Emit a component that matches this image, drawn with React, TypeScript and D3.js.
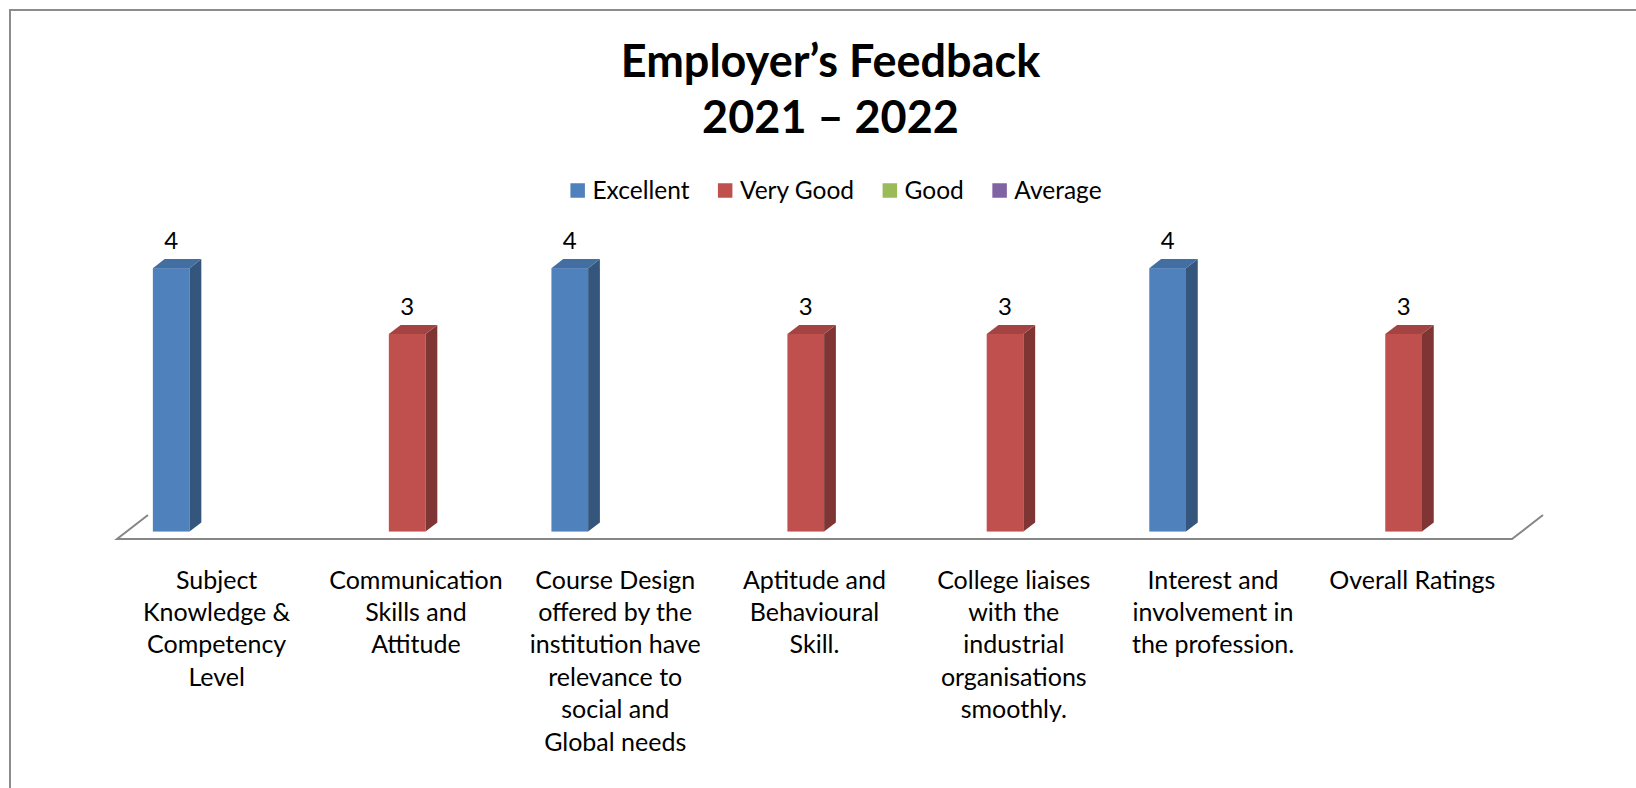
import React, { useEffect, useRef } from "react";
import * as d3 from "d3";

const categories: string[] = [
  "Subject\nKnowledge &\nCompetency\nLevel",
  "Communication\nSkills and\nAttitude",
  "Course Design\noffered by the\ninstitution have\nrelevance to\nsocial and\nGlobal needs",
  "Aptitude and\nBehavioural\nSkill.",
  "College liaises\nwith the\nindustrial\norganisations\nsmoothly.",
  "Interest and\ninvolvement in\nthe profession.",
  "Overall Ratings",
];
const seriesNames: string[] = ["Excellent", "Very Good", "Good", "Average"];
const excellent: number[] = [4, 0, 4, 0, 0, 4, 0];
const veryGood: number[] = [0, 3, 0, 3, 3, 0, 3];
const good: number[] = [0, 0, 0, 0, 0, 0, 0];
const average: number[] = [0, 0, 0, 0, 0, 0, 0];
const seriesColors: string[] = ["#4F81BD", "#C0504D", "#9BBB59", "#8064A2"];
const titleLines: string[] = ["Employer’s Feedback", "2021 – 2022"];

const W = 1636;
const H = 788;
const FONT = "Lato, 'Open Sans', sans-serif";

export default function App() {
  const ref = useRef<SVGSVGElement>(null);

  useEffect(() => {
    const svg = d3.select(ref.current);
    svg.selectAll("*").remove();

    const seriesValues = [excellent, veryGood, good, average];

    // chart border (top & left visible)
    svg.append("path")
      .attr("d", `M10,${H} L10,10 L${W},10`)
      .attr("fill", "none")
      .attr("stroke", "#8c8c8c")
      .attr("stroke-width", 2);

    // title
    const titleX = 830.5;
    svg.append("g")
      .selectAll("text")
      .data(titleLines)
      .join("text")
      .attr("x", titleX)
      .attr("y", (_, i) => 77 + i * 56)
      .attr("text-anchor", "middle")
      .attr("font-family", FONT)
      .attr("font-weight", 700)
      .attr("font-size", 45)
      .attr("fill", "#000")
      .text((d) => d);

    // floor geometry
    const floorX0 = 117;
    const floorX1 = 1512;
    const floorY = 539;
    const depthDX = 31;
    const depthDY = -24;

    const xCat = d3.scaleBand<number>()
      .domain(d3.range(categories.length))
      .range([floorX0, floorX1])
      .padding(0);
    const xSeries = d3.scaleBand<number>()
      .domain(d3.range(seriesNames.length))
      .range([0, xCat.bandwidth()])
      .paddingInner(0)
      .paddingOuter(0.715);

    const yHeight = d3.scaleLinear().domain([0, 5]).range([0, 329.25]);

    // floor
    svg.append("path")
      .attr("d", `M${floorX0 + depthDX},${floorY + depthDY} L${floorX0},${floorY} L${floorX1},${floorY} L${floorX1 + depthDX},${floorY + depthDY}`)
      .attr("fill", "none")
      .attr("stroke", "#868686")
      .attr("stroke-width", 2);

    // bars
    const frontFrac = 0.31;
    const depthFrac = 0.38;
    const fx = depthDX * frontFrac;
    const fy = depthDY * frontFrac;
    const bdx = depthDX * depthFrac;
    const bdy = depthDY * depthFrac;
    const baseY = floorY + fy;

    const bars: { c: number; s: number; v: number }[] = [];
    seriesValues.forEach((vals, s) => vals.forEach((v, c) => { if (v > 0) bars.push({ c, s, v }); }));

    const g = svg.append("g");
    bars.forEach(({ c, s, v }) => {
      const xL = (xCat(c) as number) + (xSeries(s) as number) + fx;
      const xR = xL + xSeries.bandwidth();
      const yT = baseY - yHeight(v);
      const yB = baseY;
      const base = d3.color(seriesColors[s])!;
      const side = base.darker(1.15).formatHex();
      const top = base.darker(0.45).formatHex();
      g.append("rect")
        .attr("x", xL).attr("y", yT)
        .attr("width", xR - xL).attr("height", yB - yT)
        .attr("fill", seriesColors[s]);
      g.append("polygon")
        .attr("points", [[xR, yT], [xR + bdx, yT + bdy], [xR + bdx, yB + bdy], [xR, yB]].map((p) => p.join(",")).join(" "))
        .attr("fill", side);
      g.append("polygon")
        .attr("points", [[xL, yT], [xL + bdx, yT + bdy], [xR + bdx, yT + bdy], [xR, yT]].map((p) => p.join(",")).join(" "))
        .attr("fill", top);
      g.append("text")
        .attr("x", (xL + xR) / 2)
        .attr("y", yT - 19)
        .attr("text-anchor", "middle")
        .attr("font-family", FONT)
        .attr("font-size", 24)
        .attr("fill", "#000")
        .text(String(v));
    });

    // category labels
    const lab = svg.append("g");
    categories.forEach((cat, i) => {
      const cx = (xCat(i) as number) + xCat.bandwidth() / 2;
      const t = lab.append("text")
        .attr("text-anchor", "middle")
        .attr("font-family", FONT)
        .attr("font-size", 25)
        .attr("fill", "#000");
      cat.split("\n").forEach((line, j) => {
        t.append("tspan").attr("x", cx).attr("y", 588.5 + j * 32.4).text(line);
      });
    });

    // legend
    const leg = svg.append("g");
    const sq = 14.5;
    const items = seriesNames.map((name, i) => {
      const it = leg.append("g");
      it.append("rect").attr("x", 0).attr("y", -sq / 2).attr("width", sq).attr("height", sq).attr("fill", seriesColors[i]);
      const tx = it.append("text")
        .attr("x", sq + 7.5)
        .attr("y", 8.5)
        .attr("font-family", FONT)
        .attr("font-size", 24.5)
        .attr("fill", "#000")
        .text(name);
      const w = (tx.node() as SVGTextElement).getComputedTextLength();
      return { it, w: sq + 7.5 + w };
    });
    const gap = 28.5;
    const total = d3.sum(items, (d) => d.w) + gap * (items.length - 1);
    let lx = 836 - total / 2;
    items.forEach(({ it, w }) => {
      it.attr("transform", `translate(${lx},190.5)`);
      lx += w + gap;
    });
  }, []);

  return (
    <svg
      ref={ref}
      width={W}
      height={H}
      style={{ position: "fixed", left: 0, top: 0, background: "#fff" }}
    />
  );
}
